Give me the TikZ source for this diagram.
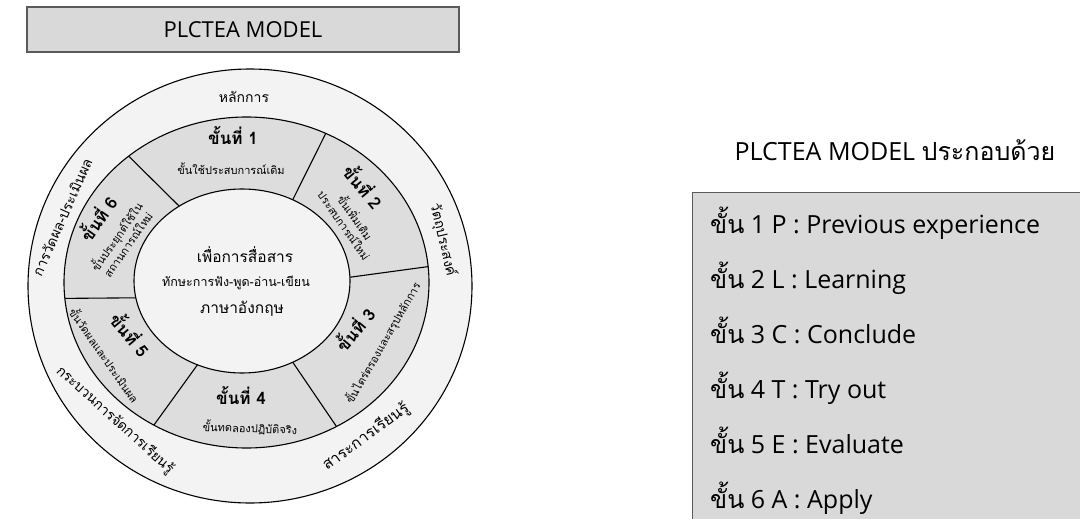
\documentclass[tikz,border=0pt]{standalone}
\usepackage{fontspec}
\setmainfont{Open Sans}
\newfontfamily\thaifont[Script=Thai]{Loma}
\usetikzlibrary{shapes.geometric}
\definecolor{boxgray}{RGB}{217,217,217}
\definecolor{ringgray}{RGB}{221,221,221}
\definecolor{palegray}{RGB}{243,243,243}
\definecolor{edgegray}{RGB}{90,90,90}

\begin{document}
\begin{tikzpicture}[x=1pt,y=-1pt]

\tikzstyle{ring} = [draw, ellipse, inner sep=0, outer sep=0, line width=1.1]
\tikzstyle{title-b} = [draw=edgegray, line width=1.3, fill=boxgray, inner sep=0,
font=\fontsize{22}{22}\selectfont]
\tikzstyle{list-b} = [draw=edgegray, line width=1.3, fill=boxgray, inner sep=0, anchor=north west]
\tikzstyle{outer-t} = [inner sep=0, font=\thaifont\fontsize{14}{14}\selectfont]
\tikzstyle{step-h} = [inner sep=0, font=\thaifont\bfseries\fontsize{17}{17}\selectfont]
\tikzstyle{step-t} = [inner sep=0, font=\thaifont\fontsize{11}{12.5}\selectfont]
\tikzstyle{core-t} = [inner sep=0, font=\thaifont\fontsize{15.5}{16}\selectfont]
\tikzstyle{list-t} = [inner sep=0, anchor=base west, font=\fontsize{25}{25}\selectfont]

\useasboundingbox (0,0) rectangle (1080,519);

\node [title-b, minimum width=432, minimum height=45] (title) at (243,29.5) {PLCTEA MODEL};

% the wheel
\node [ring, fill=palegray, minimum width=444, minimum height=434] (outer) at (250,286) {};
\node [ring, fill=ringgray, minimum width=365, minimum height=331] (mid) at (246.5,282.5) {};
\node [ring, fill=palegray, minimum width=216, minimum height=184] (core) at (242,281) {};

\foreach \a/\b in {2/5, 58/62, 130/133, 189/185, 242/237, 302/302}
  \draw [line width=1.1] (core.\a) -- (mid.\b);

\node [outer-t] (principle) at (244,97) {หลักการ};
\node [outer-t, rotate=-77] (objective) at (443,240) {วัตถุประสงค์};
\node [outer-t, rotate=36, font=\thaifont\fontsize{15.5}{15.5}\selectfont] (content) at (366,437) {สาระการเรียนรู้};
\node [outer-t, rotate=-42] (process) at (115,420) {กระบวนการจัดการเรียนรู้};
\node [outer-t, rotate=66] (assess) at (62,217) {การวัดผล-ประเมินผล};

\node [step-h] (s1) at (233,136) {ขั้นที่ 1};
\node [step-t] (t1) at (231,169) {ขั้นใช้ประสบการณ์เดิม};

\node [step-h, rotate=-50] (s2) at (364,186) {ขั้นที่ 2};
\node [step-t, rotate=-55] (t2) at (349,222) {\begin{tabular}{c} ขั้นเพิ่มเติม \\ ประสบการณ์ใหม่ \end{tabular}};

\node [step-h, rotate=50] (s3) at (354,329) {ขั้นที่ 3};
\node [step-t, rotate=60] (t3) at (383,343) {ขั้นไตร่ตรองและสรุปหลักการ};

\node [step-h] (s4) at (241,396) {ขั้นที่ 4};
\node [step-t, rotate=-2] (t4) at (250,428) {ขั้นทดลองปฏิบัติจริง};

\node [step-h, rotate=-50] (s5) at (131,334) {ขั้นที่ 5};
\node [step-t, rotate=-55] (t5) at (105,355) {ขั้นวัดผลและประเมินผล};

\node [step-h, rotate=55] (s6) at (97,218) {ขั้นที่ 6};
\node [step-t, rotate=55] (t6) at (123,241) {\begin{tabular}{c} ขั้นประยุกต์ใช้ใน \\ สถานการณ์ใหม่ \end{tabular}};

\node [core-t] (c1) at (245,255) {เพื่อการสื่อสาร};
\node [core-t, font=\thaifont\fontsize{12.5}{13}\selectfont] (c2) at (236,283) {ทักษะการฟัง-พูด-อ่าน-เขียน};
\node [core-t] (c3) at (242,309) {ภาษาอังกฤษ};

% right hand list
\node [inner sep=0, anchor=base, font=\fontsize{25}{25}\selectfont] (head) at (895,160) {PLCTEA MODEL {\thaifont ประกอบด้วย}};

\node [list-b, minimum width=400, minimum height=340] (list) at (692,192) {};
\node [list-t] (l1) at (710,233) {{\thaifont ขั้น} 1 P : Previous experience};
\node [list-t] (l2) at (710,288) {{\thaifont ขั้น} 2 L : Learning};
\node [list-t] (l3) at (710,343) {{\thaifont ขั้น} 3 C : Conclude};
\node [list-t] (l4) at (710,398) {{\thaifont ขั้น} 4 T : Try out};
\node [list-t] (l5) at (710,453) {{\thaifont ขั้น} 5 E : Evaluate};
\node [list-t] (l6) at (710,508) {{\thaifont ขั้น} 6 A : Apply};

\end{tikzpicture}
\end{document}
